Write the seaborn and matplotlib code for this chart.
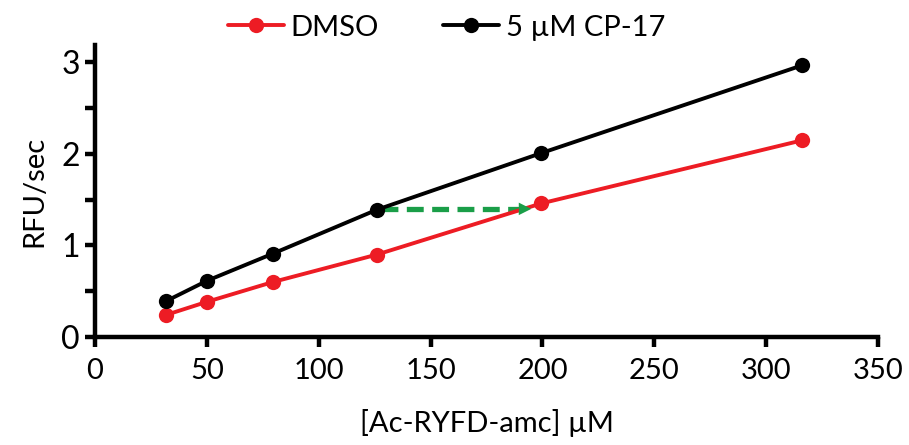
import matplotlib
matplotlib.use("Agg")
import matplotlib.pyplot as plt
import pandas as pd
import seaborn as sns

# substrate concentrations (uM) and rates (RFU/sec)
conc = [31.6, 50.1, 79.4, 125.9, 199.5, 316.2]
dmso = [0.24, 0.385, 0.60, 0.90, 1.46, 2.15]
cp17 = [0.39, 0.615, 0.91, 1.39, 2.01, 2.97]
labels = ["DMSO", "5 µM CP-17"]
colors = ["#ed1c24", "#000000"]

x_ticks = [0, 50, 100, 150, 200, 250, 300, 350]
y_ticks = [0, 0.5, 1, 1.5, 2, 2.5, 3]
y_ticklabels = ["0", "", "1", "", "2", "", "3"]

# shift arrow: CP-17 rate at 126 uM reached by DMSO near 195 uM
arrow_y = 1.40
arrow_x = [128, 195]

df = pd.DataFrame({
    "conc": conc * 2,
    "rate": dmso + cp17,
    "condition": [labels[0]] * len(conc) + [labels[1]] * len(conc),
})

sns.set_style("ticks")
plt.rcParams["font.family"] = ["Lato", "DejaVu Sans"]
plt.rcParams["axes.linewidth"] = 3.2
plt.rcParams["axes.edgecolor"] = "black"
plt.rcParams["xtick.color"] = "black"
plt.rcParams["ytick.color"] = "black"
plt.rcParams["text.color"] = "black"
plt.rcParams["axes.labelcolor"] = "black"

fig = plt.figure(figsize=(9.09, 4.45), dpi=100)
ax = fig.add_axes([0.1045, 0.2427, 0.8615, 0.656])

sns.lineplot(data=df, x="conc", y="rate", hue="condition",
             palette=dict(zip(labels, colors)), marker="o", markersize=11,
             markeredgewidth=0, linewidth=2.8, ax=ax, legend=False)

green = "#1a9e48"
ax.plot([arrow_x[0], arrow_x[1] - 5], [arrow_y, arrow_y], color=green,
        lw=3.8, ls=(0, (3.2, 1.6)), zorder=1)
ax.annotate("", xy=(arrow_x[1], arrow_y), xytext=(arrow_x[1] - 6, arrow_y),
            arrowprops=dict(arrowstyle="-|>,head_length=0.9,head_width=0.45",
                            color=green, lw=0, shrinkA=0, shrinkB=0))

ax.set_xlim(0, 350)
ax.set_ylim(0, 3.19)
ax.set_xticks(x_ticks)
ax.set_yticks(y_ticks)
ax.set_yticklabels(y_ticklabels)
ax.tick_params(axis="both", width=3.2, length=7, direction="out")
ax.tick_params(axis="x", labelsize=21, pad=8)
ax.tick_params(axis="y", labelsize=23, pad=4)
for side in ["top", "right"]:
    ax.spines[side].set_visible(False)

ax.set_xlabel("[Ac-RYFD-amc] µM", fontsize=21, labelpad=18)
ax.set_ylabel("RFU/sec", fontsize=21, labelpad=10)

handles = [plt.Line2D([], [], color=c, marker="o", markersize=11,
                      markeredgewidth=0, lw=2.8) for c in colors]
ax.legend(handles, labels, ncol=2, frameon=False, fontsize=21,
          loc="center left", bbox_to_anchor=(0.17, 1.06),
          handlelength=1.9, handletextpad=0.25, columnspacing=2.2,
          borderpad=0, borderaxespad=0)

fig.savefig("out.png", dpi=100)
